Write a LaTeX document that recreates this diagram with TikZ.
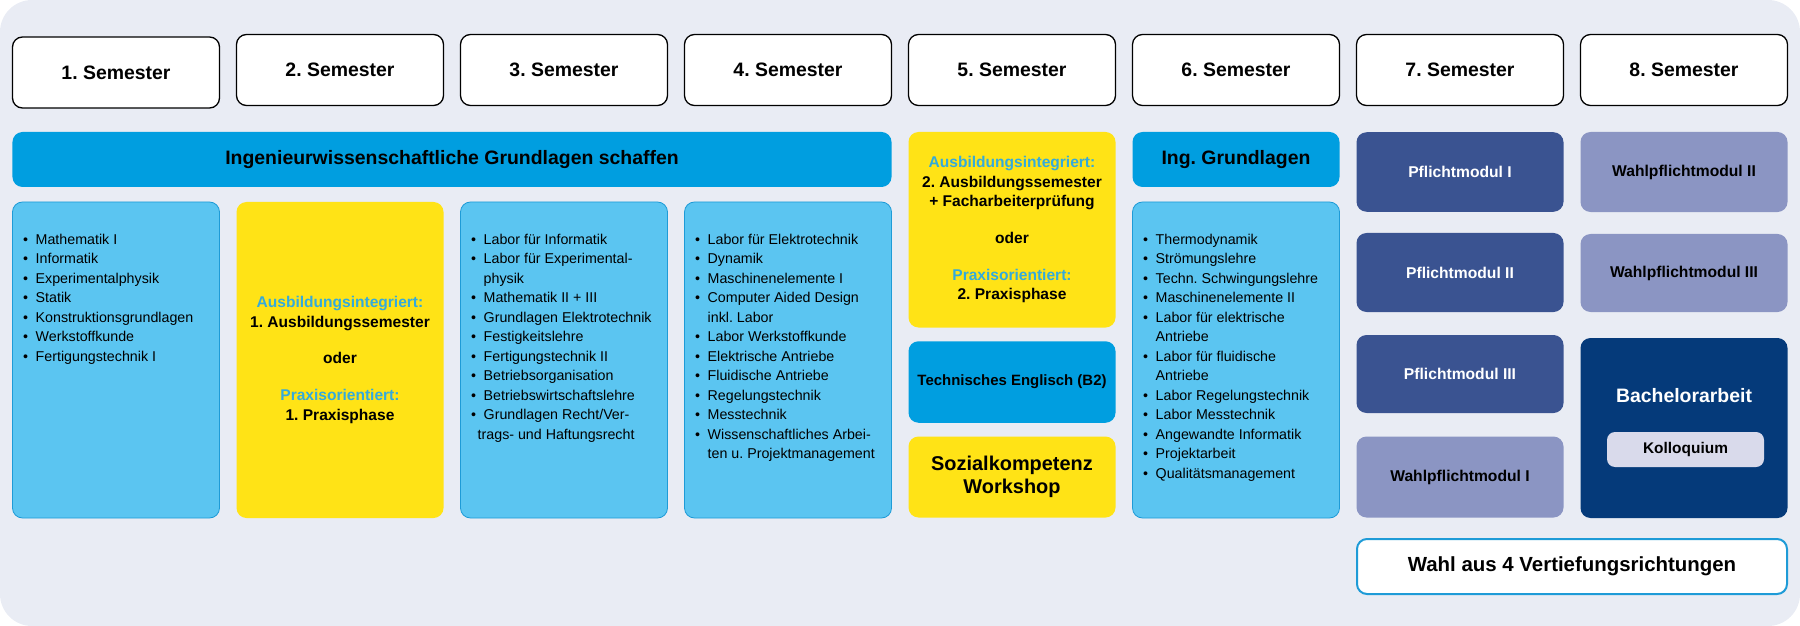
\documentclass[tikz,border=0pt]{standalone}
\usepackage{fontspec}
\setmainfont{Liberation Sans}
\usepackage{xcolor}
\definecolor{bggray}{RGB}{233,236,244}
\definecolor{cyanband}{RGB}{0,158,224}
\definecolor{lightcyan}{RGB}{91,197,241}
\definecolor{cyanline}{RGB}{30,155,215}
\definecolor{sunyellow}{RGB}{255,227,22}
\definecolor{cyantext}{RGB}{51,170,220}
\definecolor{pflichtblue}{RGB}{58,83,145}
\definecolor{wahllilac}{RGB}{139,149,195}
\definecolor{navy}{RGB}{5,58,122}
\definecolor{kollgray}{RGB}{217,218,235}
\newcommand{\bul}{\makebox[12.5bp][l]{\textbullet}}
\newcommand{\cont}{\hspace*{12.5bp}}
\frenchspacing

\begin{document}
\begin{tikzpicture}[x=1bp, y=-1bp,
  sembox/.style={draw=black, line width=1.3bp, fill=white, rounded corners=10bp,
    minimum width=207bp, minimum height=71bp, inner sep=0pt,
    font=\fontsize{19.5}{22}\selectfont\bfseries},
  bandbox/.style={fill=cyanband, rounded corners=10bp, minimum height=55bp,
    inner sep=0pt, font=\fontsize{19.5}{22}\selectfont\bfseries},
  listbox/.style={fill=lightcyan, draw=cyanline, line width=0.8bp, rounded corners=10bp,
    minimum width=207bp, minimum height=316bp, inner sep=0pt},
  listtext/.style={anchor=north west, inner sep=0pt, align=left,
    font=\fontsize{14.3}{19.6}\selectfont},
  yellowbox/.style={fill=sunyellow, rounded corners=10bp, minimum width=207bp,
    inner sep=0pt, align=center, font=\fontsize{15.6}{19.5}\selectfont\bfseries},
  modbox/.style={rounded corners=10bp, minimum width=207bp, inner sep=0pt,
    font=\fontsize{15.7}{18}\selectfont\bfseries}]

  \useasboundingbox (0,0) rectangle (1800,626);
  \fill[bggray, rounded corners=32bp] (0,0) rectangle (1800,626);

  % semester row
  \foreach \i/\yc in {1/72.5, 2/70, 3/70, 4/70, 5/70, 6/70, 7/70, 8/70}
    \node[sembox] (sem\i) at ({116+224*(\i-1)},\yc) {\i. Semester};

  % foundations
  \node[bandbox, minimum width=879bp] (grundlagen) at (452,159.5)
    {Ingenieurwissenschaftliche Grundlagen schaffen};
  \node[bandbox, minimum width=207bp] (inggrund) at (1236,159.5) {Ing. Grundlagen};

  % module lists
  \foreach \i/\xc in {1/116, 3/564, 4/788, 6/1236}
    \node[listbox] (list\i) at (\xc,360) {};

  \node[listtext] (items1) at (23,233.5)
    {\bul Mathematik I\\ \bul Informatik\\ \bul Experimentalphysik\\ \bul Statik\\
     \bul Konstruktionsgrundlagen\\ \bul Werkstoffkunde\\ \bul Fertigungstechnik I};
  \node[listtext] (items3) at (471,233.5)
    {\bul Labor für Informatik\\ \bul Labor für Experimental-\\ \cont physik\\
     \bul Mathematik II + III\\ \bul Grundlagen Elektrotechnik\\ \bul Festigkeitslehre\\
     \bul Fertigungstechnik II\\ \bul Betriebsorganisation\\ \bul Betriebswirtschaftslehre\\
     \bul Grundlagen Recht/Ver-\\ \hspace*{6.5bp}trags- und Haftungsrecht};
  \node[listtext] (items4) at (695,233.5)
    {\bul Labor für Elektrotechnik\\ \bul Dynamik\\ \bul Maschinenelemente I\\
     \bul Computer Aided Design\\ \cont inkl. Labor\\ \bul Labor Werkstoffkunde\\
     \bul Elektrische Antriebe\\ \bul Fluidische Antriebe\\ \bul Regelungstechnik\\
     \bul Messtechnik\\ \bul Wissenschaftliches Arbei-\\ \cont ten u. Projektmanagement};
  \node[listtext] (items6) at (1143,233.5)
    {\bul Thermodynamik\\ \bul Strömungslehre\\ \bul Techn. Schwingungslehre\\
     \bul Maschinenelemente II\\ \bul Labor für elektrische\\ \cont Antriebe\\
     \bul Labor für fluidische\\ \cont Antriebe\\ \bul Labor Regelungstechnik\\
     \bul Labor Messtechnik\\ \bul Angewandte Informatik\\ \bul Projektarbeit\\
     \bul Qualitätsmanagement};

  % practice phases
  \node[yellowbox, minimum height=316bp] (praxis1) at (340,360)
    {\textcolor{cyantext}{Ausbildungsintegriert:}\\ 1. Ausbildungssemester\\[17bp]
     oder\\[18bp] \textcolor{cyantext}{Praxisorientiert:}\\ 1. Praxisphase};
  \node[yellowbox, minimum height=195.5bp] (praxis2) at (1012,229.75)
    {\textcolor{cyantext}{Ausbildungsintegriert:}\\ 2. Ausbildungssemester\\
     + Facharbeiterprüfung\\[18bp] oder\\[17bp]
     \textcolor{cyantext}{Praxisorientiert:}\\ 2. Praxisphase};
  \node[bandbox, minimum width=207bp, minimum height=81.5bp,
    font=\fontsize{15}{18}\selectfont\bfseries] (englisch) at (1012,382)
    {Technisches Englisch (B2)};
  \node[yellowbox, minimum height=81bp, font=\fontsize{20}{23}\selectfont\bfseries]
    (sozial) at (1012,477) {Sozialkompetenz\\Workshop};

  % specialisation
  \foreach \n/\t/\yc/\h in {1/I/172/79.5, 2/II/272.5/79, 3/III/374/78}
    \node[modbox, fill=pflichtblue, text=white, minimum height=\h bp]
      (pflicht\n) at (1460,\yc) {Pflichtmodul \t};
  \foreach \n/\t/\xc/\yc/\h in {1/I/1460/477/81, 2/II/1684/172/80, 3/III/1684/273/78}
    \node[modbox, fill=wahllilac, minimum height=\h bp]
      (wahl\n) at (\xc,\yc) {Wahlpflichtmodul \t};
  \node[modbox, fill=navy, minimum height=180bp] (bachelor) at (1684,428) {};
  \node[text=white, inner sep=0pt, font=\fontsize{19.5}{22}\selectfont\bfseries]
    (batitle) at (1684,396) {Bachelorarbeit};
  \node[fill=kollgray, rounded corners=8bp, minimum width=157bp, minimum height=35bp,
    inner sep=0pt, font=\fontsize{15.5}{18}\selectfont\bfseries]
    (kolloquium) at (1685.5,449.5) {Kolloquium};
  \node[draw=cyanline, line width=2bp, fill=white, rounded corners=10bp,
    minimum width=430bp, minimum height=55bp,
    font=\fontsize{20.5}{24}\selectfont\bfseries] (vertiefung) at (1572,566.5)
    {Wahl aus 4 Vertiefungsrichtungen};

\end{tikzpicture}
\end{document}
